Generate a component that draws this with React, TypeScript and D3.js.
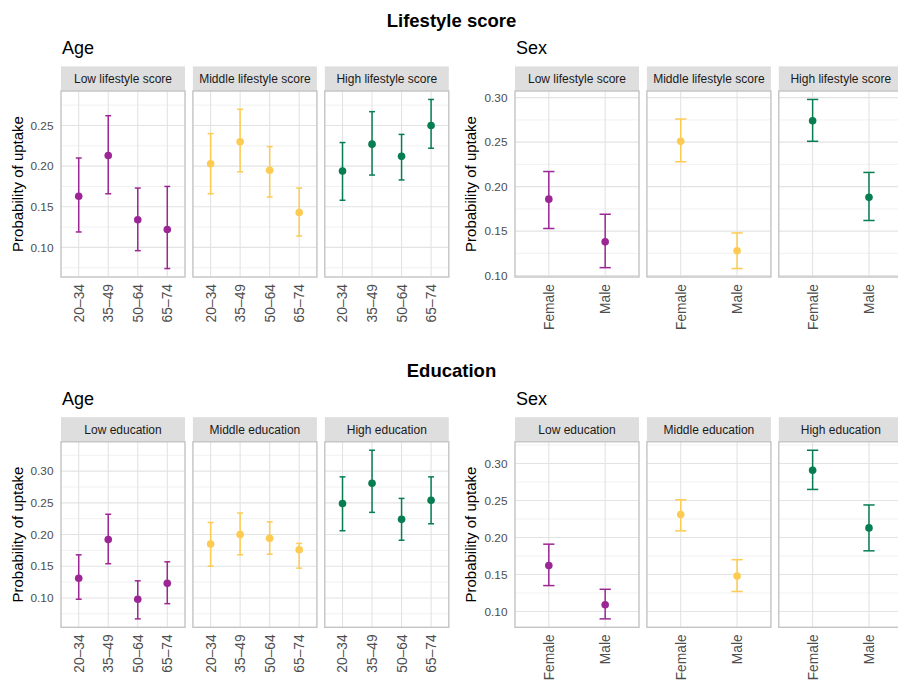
import React from "react";
import * as d3 from "d3";

// ---------- data ----------
const lifestyleStrips = ["Low lifestyle score", "Middle lifestyle score", "High lifestyle score"];
const educationStrips = ["Low education", "Middle education", "High education"];
const ageGroups = ["20–34", "35–49", "50–64", "65–74"];
const sexGroups = ["Female", "Male"];

const lifestyleAgeEst = [[0.163, 0.213, 0.134, 0.122], [0.203, 0.230, 0.195, 0.143], [0.194, 0.227, 0.212, 0.250]];
const lifestyleAgeLow = [[0.119, 0.166, 0.096, 0.074], [0.166, 0.193, 0.162, 0.114], [0.158, 0.189, 0.183, 0.222]];
const lifestyleAgeHigh = [[0.210, 0.262, 0.173, 0.175], [0.240, 0.270, 0.224, 0.173], [0.229, 0.267, 0.239, 0.282]];

const lifestyleSexEst = [[0.186, 0.138], [0.251, 0.128], [0.274, 0.188]];
const lifestyleSexLow = [[0.153, 0.109], [0.228, 0.108], [0.251, 0.162]];
const lifestyleSexHigh = [[0.217, 0.169], [0.276, 0.148], [0.298, 0.216]];

const educationAgeEst = [[0.131, 0.192, 0.098, 0.123], [0.185, 0.200, 0.194, 0.176], [0.249, 0.281, 0.224, 0.254]];
const educationAgeLow = [[0.098, 0.154, 0.067, 0.091], [0.150, 0.168, 0.169, 0.147], [0.206, 0.235, 0.191, 0.217]];
const educationAgeHigh = [[0.168, 0.232, 0.127, 0.157], [0.219, 0.234, 0.220, 0.186], [0.291, 0.333, 0.257, 0.291]];

const educationSexEst = [[0.162, 0.109], [0.231, 0.148], [0.291, 0.213]];
const educationSexLow = [[0.135, 0.090], [0.209, 0.127], [0.265, 0.182]];
const educationSexHigh = [[0.191, 0.130], [0.251, 0.170], [0.318, 0.244]];

const groupColors = ["#9C2794", "#FDCB52", "#067E51"];

// ---------- layout ----------
const W = 898;
const H = 683;
const FONT = "'Liberation Sans', Arial, Helvetica, sans-serif";
const PANEL_W = 124;
const PANEL_GAP = 7.9;
const STRIP_H = 24.6;

type BlockProps = {
  title: string;
  x0: number;
  stripTop: number;
  panelBottom: number;
  strips: string[];
  cats: string[];
  est: number[][];
  low: number[][];
  high: number[][];
  yTitleX: number;
};

function FacetBlock(p: BlockProps) {
  const panelTop = p.stripTop + STRIP_H;
  const all = [...p.low.flat(), ...p.high.flat()];
  const mn = d3.min(all) as number;
  const mx = d3.max(all) as number;
  const pad = (mx - mn) * 0.05;
  const y = d3.scaleLinear().domain([mn - pad, mx + pad]).range([p.panelBottom, panelTop]);
  const majors = d3.range(0, 1.0001, 0.05).filter((v) => v >= y.domain()[0] && v <= y.domain()[1]);
  const minors = d3.range(0.025, 1.0001, 0.05).filter((v) => v >= y.domain()[0] && v <= y.domain()[1]);
  const fmt = d3.format(".2f");
  const midY = (panelTop + p.panelBottom) / 2;

  return (
    <g>
      <text x={p.x0 + 1} y={p.stripTop - 12.5} fontSize={18} fill="#000" fontFamily={FONT}>
        {p.title}
      </text>
      <text
        transform={`translate(${p.yTitleX},${midY}) rotate(-90)`}
        textAnchor="middle"
        fontSize={15}
        fill="#000"
        fontFamily={FONT}
      >
        Probability of uptake
      </text>
      {majors.map((v) => (
        <text
          key={"yt" + v}
          x={p.x0 - 7.5}
          y={y(v)}
          dy="0.36em"
          textAnchor="end"
          fontSize={11.8}
          fill="#4D4D4D"
          fontFamily={FONT}
        >
          {fmt(v)}
        </text>
      ))}
      {p.strips.map((s, i) => {
        const px = p.x0 + i * (PANEL_W + PANEL_GAP);
        const x = d3.scalePoint<string>().domain(p.cats).range([px, px + PANEL_W]).padding(0.6);
        const step = x.step();
        const capHalf = step * 0.1;
        return (
          <g key={s}>
            <rect x={px} y={p.stripTop} width={PANEL_W} height={STRIP_H} fill="#DEDEDE" />
            <text
              x={px + PANEL_W / 2}
              y={p.stripTop + STRIP_H / 2}
              dy="0.36em"
              textAnchor="middle"
              fontSize={12}
              fill="#1A1A1A"
              fontFamily={FONT}
            >
              {s}
            </text>
            <rect x={px} y={panelTop} width={PANEL_W} height={p.panelBottom - panelTop} fill="#fff" />
            {minors.map((v) => (
              <line key={"mn" + v} x1={px} x2={px + PANEL_W} y1={y(v)} y2={y(v)} stroke="#EDEDED" strokeWidth={0.8} />
            ))}
            {majors.map((v) => (
              <line key={"mj" + v} x1={px} x2={px + PANEL_W} y1={y(v)} y2={y(v)} stroke="#E3E3E3" strokeWidth={1.1} />
            ))}
            {p.cats.map((c) => (
              <line key={"vx" + c} x1={x(c)} x2={x(c)} y1={panelTop} y2={p.panelBottom} stroke="#E3E3E3" strokeWidth={1.1} />
            ))}
            <rect
              x={px}
              y={panelTop}
              width={PANEL_W}
              height={p.panelBottom - panelTop}
              fill="none"
              stroke="#C4C4C4"
              strokeWidth={1.4}
            />
            {p.cats.map((c, j) => {
              const cx = x(c) as number;
              return (
                <g key={"pt" + c}>
                  <line x1={cx} x2={cx} y1={y(p.low[i][j])} y2={y(p.high[i][j])} stroke={groupColors[i]} strokeWidth={1.5} />
                  <line x1={cx - capHalf} x2={cx + capHalf} y1={y(p.low[i][j])} y2={y(p.low[i][j])} stroke={groupColors[i]} strokeWidth={1.5} />
                  <line x1={cx - capHalf} x2={cx + capHalf} y1={y(p.high[i][j])} y2={y(p.high[i][j])} stroke={groupColors[i]} strokeWidth={1.5} />
                  <circle cx={cx} cy={y(p.est[i][j])} r={3.8} fill={groupColors[i]} />
                </g>
              );
            })}
            {p.cats.map((c) => (
              <text
                key={"xl" + c}
                transform={`translate(${x(c)},${p.panelBottom + 7}) rotate(-90)`}
                textAnchor="end"
                dy="0.36em"
                fontSize={13.8}
                fill="#4D4D4D"
                fontFamily={FONT}
              >
                {c}
              </text>
            ))}
          </g>
        );
      })}
    </g>
  );
}

export default function App() {
  const LX = 61;
  const RX = 515;
  return (
    <svg
      width={W}
      height={H}
      viewBox={`0 0 ${W} ${H}`}
      style={{ position: "absolute", left: 0, top: 0, background: "#fff" }}
    >
      <rect x={0} y={0} width={W} height={H} fill="#fff" />
      <text x={451.5} y={26.5} textAnchor="middle" fontSize={18.5} fontWeight="bold" fill="#000" fontFamily={FONT}>
        Lifestyle score
      </text>
      <text x={451.5} y={377.3} textAnchor="middle" fontSize={18.5} fontWeight="bold" fill="#000" fontFamily={FONT}>
        Education
      </text>
      <FacetBlock
        title="Age"
        x0={LX}
        stripTop={66.4}
        panelBottom={277}
        strips={lifestyleStrips}
        cats={ageGroups}
        est={lifestyleAgeEst}
        low={lifestyleAgeLow}
        high={lifestyleAgeHigh}
        yTitleX={23}
      />
      <FacetBlock
        title="Sex"
        x0={RX}
        stripTop={66.4}
        panelBottom={277}
        strips={lifestyleStrips}
        cats={sexGroups}
        est={lifestyleSexEst}
        low={lifestyleSexLow}
        high={lifestyleSexHigh}
        yTitleX={475.5}
      />
      <FacetBlock
        title="Age"
        x0={LX}
        stripTop={417.2}
        panelBottom={627.3}
        strips={educationStrips}
        cats={ageGroups}
        est={educationAgeEst}
        low={educationAgeLow}
        high={educationAgeHigh}
        yTitleX={23}
      />
      <FacetBlock
        title="Sex"
        x0={RX}
        stripTop={417.2}
        panelBottom={627.3}
        strips={educationStrips}
        cats={sexGroups}
        est={educationSexEst}
        low={educationSexLow}
        high={educationSexHigh}
        yTitleX={475.5}
      />
    </svg>
  );
}
